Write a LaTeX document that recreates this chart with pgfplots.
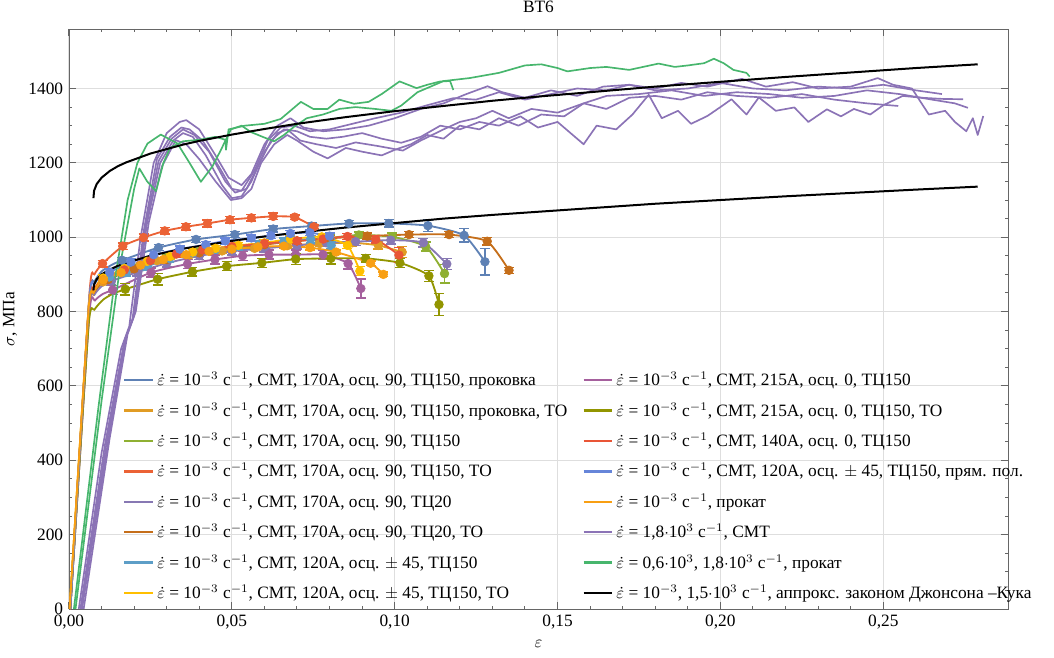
\documentclass[border=0pt]{standalone}
\usepackage{fontspec}
\setmainfont{Liberation Serif}
\usepackage{pgfplots}
\pgfplotsset{compat=1.18}
\definecolor{c1}{rgb}{0.368,0.507,0.710}
\definecolor{c2}{rgb}{0.881,0.611,0.142}
\definecolor{c3}{rgb}{0.560,0.692,0.195}
\definecolor{c4}{rgb}{0.923,0.386,0.209}
\definecolor{c5}{rgb}{0.528,0.471,0.701}
\definecolor{c6}{rgb}{0.772,0.432,0.102}
\definecolor{c7}{rgb}{0.364,0.619,0.782}
\definecolor{c8}{rgb}{1.000,0.750,0.000}
\definecolor{c9}{rgb}{0.648,0.378,0.614}
\definecolor{c10}{rgb}{0.572,0.586,0.000}
\definecolor{c11}{rgb}{0.915,0.333,0.213}
\definecolor{c12}{rgb}{0.401,0.522,0.850}
\definecolor{c13}{rgb}{0.973,0.622,0.073}
\definecolor{c14}{rgb}{0.545,0.450,0.715}
\definecolor{c15}{rgb}{0.280,0.715,0.429}
\newcommand{\fs}{\fontsize{10.4pt}{12.5pt}\selectfont}
\pgfplotsset{
  qline/.style={color=#1, line width=1.1pt, smooth, tension=0.35, mark=none},
  qmark/.style={color=#1, only marks, mark=*, mark size=2.6pt, mark options={solid, fill=#1, draw=#1}, forget plot,
     error bars/.cd, y dir=both, y explicit, error bar style={line width=0.9pt, color=#1},
     error mark options={rotate=90, mark size=3pt, line width=0.9pt, color=#1}},
  dline/.style={color=#1, line width=1.0pt, mark=none, line join=round},
}
\newcommand{\er}{$\dot{\varepsilon}$ = 10$^{-3}$ с$^{-1}$}
\begin{document}
\begin{tikzpicture}[font=\fs]
\begin{axis}[
  scale only axis, width=563.4pt, height=348pt,
  xmin=0, xmax=0.2883, ymin=0, ymax=1560,
  xtick={0,0.05,0.1,0.15,0.2,0.25},
  ytick={0,200,400,600,800,1000,1200,1400},
  minor x tick num=4, minor y tick num=3,
  grid=major, grid style={black!13, line width=0.6pt},
  axis line style={draw=black!60},
  tick style={black!60, line width=0.6pt},
  major tick length=4pt, minor tick length=2pt,
  /pgf/number format/assume math mode=true,
  tick label style={font=\fs},
  label style={font=\fs},
  title style={font=\fs},
  x tick label style={/pgf/number format/.cd, fixed, fixed zerofill, precision=2, use comma},
  y tick label style={/pgf/number format/.cd, fixed, precision=0, 1000 sep={}},
  title={ВТ6},
  xlabel={$\varepsilon$},
  ylabel={$\sigma$, МПа},
  legend style={draw=none, fill=none, at={(0.052,0.4205)}, anchor=north west, font=\fs,
    row sep=4.6pt, /tikz/every even column/.append style={column sep=7pt}},
  legend image post style={line width=1.4pt},
  legend cell align=left, legend columns=8, transpose legend,
]
% S1
\addplot[qline=c1] coordinates {(0.0004,0) (0.0062,830) (0.0078,880) (0.0100,908) (0.0130,925) (0.0163,938) (0.0275,972) (0.0390,994) (0.0509,1007) (0.0627,1022) (0.0745,1030) (0.0860,1037) (0.0982,1037) (0.1102,1031) (0.1213,1005) (0.1277,934)};
\addlegendentry{\er, СМТ, 170А, осц. 90, ТЦ150, проковка}
\addplot[qmark=c1] coordinates {(0.0163,938) +- (0,8) (0.0275,972) +- (0,8) (0.0390,994) +- (0,8) (0.0509,1007) +- (0,8) (0.0627,1022) +- (0,8) (0.0745,1030) +- (0,8) (0.0860,1037) +- (0,8) (0.0982,1037) +- (0,10) (0.1102,1031) +- (0,15) (0.1213,1005) +- (0,18) (0.1277,934) +- (0,35)};
% S2
\addplot[qline=c2] coordinates {(0.0002,0) (0.0060,800) (0.0075,845) (0.0090,868) (0.0105,880) (0.0180,912) (0.0270,937) (0.0370,952) (0.0470,963) (0.0570,970) (0.0670,977) (0.0770,983) (0.0870,985) (0.0950,978) (0.1023,960)};
\addlegendentry{\er, СМТ, 170А, осц. 90, ТЦ150, проковка, ТО}
\addplot[qmark=c2] coordinates {(0.0105,880) +- (0,6) (0.0180,912) +- (0,6) (0.0270,937) +- (0,6) (0.0370,952) +- (0,6) (0.0470,963) +- (0,6) (0.0570,970) +- (0,6) (0.0670,977) +- (0,6) (0.0770,983) +- (0,6) (0.0870,985) +- (0,8) (0.0950,978) +- (0,10) (0.1023,960) +- (0,15)};
% S3
\addplot[qline=c3] coordinates {(0.0003,0) (0.0061,800) (0.0076,850) (0.0095,875) (0.0120,890) (0.0200,918) (0.0300,945) (0.0400,962) (0.0500,973) (0.0600,983) (0.0700,990) (0.0800,998) (0.0890,1006) (0.0993,1001) (0.1095,975) (0.1153,902)};
\addlegendentry{\er, СМТ, 170А, осц. 90, ТЦ150}
\addplot[qmark=c3] coordinates {(0.0120,890) +- (0,8) (0.0200,918) +- (0,8) (0.0300,945) +- (0,8) (0.0400,962) +- (0,8) (0.0500,973) +- (0,8) (0.0600,983) +- (0,8) (0.0700,990) +- (0,8) (0.0800,998) +- (0,8) (0.0890,1006) +- (0,8) (0.0993,1001) +- (0,10) (0.1095,975) +- (0,12) (0.1153,902) +- (0,25)};
% S4
\addplot[qline=c4] coordinates {(0.0004,0) (0.0063,850) (0.0078,900) (0.0103,929) (0.0165,976) (0.0229,999) (0.0294,1017) (0.0359,1028) (0.0425,1037) (0.0494,1047) (0.0560,1052) (0.0627,1056) (0.0693,1054) (0.0752,1028)};
\addlegendentry{\er, СМТ, 170А, осц. 90, ТЦ150, ТО}
\addplot[qmark=c4] coordinates {(0.0103,929) +- (0,9) (0.0165,976) +- (0,9) (0.0229,999) +- (0,9) (0.0294,1017) +- (0,9) (0.0359,1028) +- (0,9) (0.0425,1037) +- (0,9) (0.0494,1047) +- (0,9) (0.0560,1052) +- (0,9) (0.0627,1056) +- (0,9) (0.0693,1054) +- (0,6) (0.0752,1028) +- (0,5)};
% S5
\addplot[qline=c5] coordinates {(0.0004,0) (0.0062,800) (0.0078,845) (0.0100,868) (0.0130,882) (0.0210,906) (0.0300,930) (0.0400,950) (0.0500,962) (0.0600,970) (0.0700,978) (0.0790,985) (0.0880,988) (0.0988,992) (0.1088,985) (0.1160,928)};
\addlegendentry{\er, СМТ, 170А, осц. 90, ТЦ20}
\addplot[qmark=c5] coordinates {(0.0130,882) +- (0,10) (0.0210,906) +- (0,10) (0.0300,930) +- (0,10) (0.0400,950) +- (0,10) (0.0500,962) +- (0,10) (0.0600,970) +- (0,10) (0.0700,978) +- (0,10) (0.0790,985) +- (0,10) (0.0880,988) +- (0,10) (0.0988,992) +- (0,10) (0.1088,985) +- (0,12) (0.1160,928) +- (0,15)};
% S6
\addplot[qline=c6] coordinates {(0.0003,0) (0.0061,805) (0.0076,850) (0.0095,872) (0.0120,886) (0.0200,915) (0.0300,940) (0.0400,958) (0.0500,970) (0.0600,980) (0.0700,990) (0.0800,997) (0.0916,1003) (0.1044,1007) (0.1167,1007) (0.1284,989) (0.1351,911)};
\addlegendentry{\er, СМТ, 170А, осц. 90, ТЦ20, ТО}
\addplot[qmark=c6] coordinates {(0.0120,886) +- (0,8) (0.0200,915) +- (0,8) (0.0300,940) +- (0,8) (0.0400,958) +- (0,8) (0.0500,970) +- (0,8) (0.0600,980) +- (0,8) (0.0700,990) +- (0,8) (0.0800,997) +- (0,8) (0.0916,1003) +- (0,8) (0.1044,1007) +- (0,8) (0.1167,1007) +- (0,8) (0.1284,989) +- (0,10) (0.1351,911) +- (0,8)};
% S7
\addplot[qline=c7] coordinates {(0.0003,0) (0.0061,810) (0.0077,855) (0.0095,878) (0.0124,893) (0.0175,905) (0.0241,922) (0.0308,943) (0.0380,958) (0.0450,968) (0.0520,976) (0.0583,981) (0.0660,988) (0.0742,995) (0.0805,978)};
\addlegendentry{\er, СМТ, 120А, осц. $\pm$ 45, ТЦ150}
\addplot[qmark=c7] coordinates {(0.0124,893) +- (0,10) (0.0175,905) +- (0,10) (0.0241,922) +- (0,10) (0.0308,943) +- (0,10) (0.0380,958) +- (0,10) (0.0450,968) +- (0,10) (0.0520,976) +- (0,10) (0.0583,981) +- (0,10) (0.0660,988) +- (0,10) (0.0742,995) +- (0,10) (0.0805,978) +- (0,10)};
% S8
\addplot[qline=c8] coordinates {(0.0002,0) (0.0060,810) (0.0075,855) (0.0090,878) (0.0105,890) (0.0170,916) (0.0240,935) (0.0310,948) (0.0380,960) (0.0450,970) (0.0520,978) (0.0600,985) (0.0680,995) (0.0776,1001) (0.0855,978) (0.0893,909)};
\addlegendentry{\er, СМТ, 120А, осц. $\pm$ 45, ТЦ150, ТО}
\addplot[qmark=c8] coordinates {(0.0105,890) +- (0,8) (0.0170,916) +- (0,8) (0.0240,935) +- (0,8) (0.0310,948) +- (0,8) (0.0380,960) +- (0,8) (0.0450,970) +- (0,8) (0.0520,978) +- (0,8) (0.0600,985) +- (0,8) (0.0680,995) +- (0,8) (0.0776,1001) +- (0,8) (0.0855,978) +- (0,8) (0.0893,909) +- (0,12)};
% S9
\addplot[qline=c9] coordinates {(0.0004,0) (0.0062,790) (0.0080,830) (0.0105,848) (0.0134,858) (0.0252,905) (0.0364,928) (0.0448,940) (0.0533,950) (0.0614,953) (0.0696,953) (0.0780,953) (0.0857,929) (0.0896,862)};
\addlegendentry{\er, СМТ, 215А, осц. 0, ТЦ150}
\addplot[qmark=c9] coordinates {(0.0134,858) +- (0,12) (0.0252,905) +- (0,12) (0.0364,928) +- (0,12) (0.0448,940) +- (0,12) (0.0533,950) +- (0,12) (0.0614,953) +- (0,12) (0.0696,953) +- (0,12) (0.0780,953) +- (0,12) (0.0857,929) +- (0,14) (0.0896,862) +- (0,25)};
% S10
\addplot[qline=c10] coordinates {(0.0004,0) (0.0060,760) (0.0078,805) (0.0105,832) (0.0135,848) (0.0173,860) (0.0272,887) (0.0379,907) (0.0484,922) (0.0592,931) (0.0696,941) (0.0804,943) (0.0911,943) (0.1016,931) (0.1105,896) (0.1136,819)};
\addlegendentry{\er, СМТ, 215А, осц. 0, ТЦ150, ТО}
\addplot[qmark=c10] coordinates {(0.0173,860) +- (0,15) (0.0272,887) +- (0,15) (0.0379,907) +- (0,12) (0.0484,922) +- (0,12) (0.0592,931) +- (0,12) (0.0696,941) +- (0,15) (0.0804,943) +- (0,15) (0.0911,943) +- (0,10) (0.1016,931) +- (0,12) (0.1105,896) +- (0,15) (0.1136,819) +- (0,30)};
% S11
\addplot[qline=c11] coordinates {(0.0003,0) (0.0061,815) (0.0076,858) (0.0090,875) (0.0105,885) (0.0170,912) (0.0250,937) (0.0330,955) (0.0410,966) (0.0500,975) (0.0600,983) (0.0700,990) (0.0780,995) (0.0855,1002) (0.0942,994) (0.1013,952)};
\addlegendentry{\er, СМТ, 140А, осц. 0, ТЦ150}
\addplot[qmark=c11] coordinates {(0.0105,885) +- (0,8) (0.0170,912) +- (0,8) (0.0250,937) +- (0,8) (0.0330,955) +- (0,8) (0.0410,966) +- (0,8) (0.0500,975) +- (0,8) (0.0600,983) +- (0,8) (0.0700,990) +- (0,8) (0.0780,995) +- (0,8) (0.0855,1002) +- (0,8) (0.0942,994) +- (0,10) (0.1013,952) +- (0,20)};
% S12
\addplot[qline=c12] coordinates {(0.0004,0) (0.0062,830) (0.0077,872) (0.0095,893) (0.0125,906) (0.0190,933) (0.0260,953) (0.0340,968) (0.0420,980) (0.0480,990) (0.0560,998) (0.0620,1004) (0.0680,1010) (0.0740,1012) (0.0800,1003)};
\addlegendentry{\er, СМТ, 120А, осц. $\pm$ 45, ТЦ150, прям. пол.}
\addplot[qmark=c12] coordinates {(0.0125,906) +- (0,8) (0.0190,933) +- (0,8) (0.0260,953) +- (0,8) (0.0340,968) +- (0,8) (0.0420,980) +- (0,8) (0.0480,990) +- (0,8) (0.0560,998) +- (0,8) (0.0620,1004) +- (0,8) (0.0680,1010) +- (0,8) (0.0740,1012) +- (0,8) (0.0800,1003) +- (0,8)};
% S13
\addplot[qline=c13] coordinates {(0.0002,0) (0.0060,805) (0.0075,850) (0.0090,873) (0.0105,885) (0.0160,905) (0.0220,925) (0.0290,940) (0.0360,953) (0.0430,962) (0.0500,968) (0.0580,974) (0.0660,976) (0.0740,972) (0.0820,960) (0.0926,930) (0.0965,900)};
\addlegendentry{$\dot{\varepsilon}$ = 10$^{-3}$ с$^{-1}$, прокат}
\addplot[qmark=c13] coordinates {(0.0105,885) +- (0,6) (0.0160,905) +- (0,6) (0.0220,925) +- (0,6) (0.0290,940) +- (0,6) (0.0360,953) +- (0,6) (0.0430,962) +- (0,6) (0.0500,968) +- (0,6) (0.0580,974) +- (0,6) (0.0660,976) +- (0,6) (0.0740,972) +- (0,6) (0.0820,960) +- (0,6) (0.0926,930) +- (0,6) (0.0965,900) +- (0,6)};
% Purple dynamic
\addplot[dline=c14] coordinates {(0.0030,0) (0.0100,420) (0.0160,700) (0.0185,760) (0.0220,1000) (0.0260,1200) (0.0300,1280) (0.0340,1310) (0.0360,1315) (0.0400,1290) (0.0450,1220) (0.0490,1160) (0.0530,1140) (0.0560,1170) (0.0600,1250) (0.0640,1300) (0.0680,1320) (0.0720,1295) (0.0780,1285) (0.0850,1290) (0.0920,1300) (0.1000,1320) (0.1080,1345) (0.1150,1360) (0.1220,1385) (0.1285,1406) (0.1330,1390) (0.1400,1375) (0.1480,1395) (0.1560,1380) (0.1640,1405) (0.1720,1410) (0.1800,1400) (0.1880,1415) (0.1960,1405) (0.2066,1426) (0.2140,1405) (0.2222,1417) (0.2300,1400) (0.2400,1405) (0.2483,1428) (0.2530,1410) (0.2588,1400) (0.2640,1330) (0.2690,1340) (0.2720,1310) (0.2755,1285) (0.2775,1320) (0.2790,1275) (0.2807,1326)};
\addlegendentry{$\dot{\varepsilon}$ = 1,8$\cdot$10$^3$ с$^{-1}$, СМТ}
\addplot[dline=c14, forget plot] coordinates {(0.0035,0) (0.0110,440) (0.0170,720) (0.0195,780) (0.0230,1020) (0.0270,1210) (0.0310,1270) (0.0345,1295) (0.0370,1290) (0.0410,1260) (0.0460,1190) (0.0500,1130) (0.0530,1125) (0.0570,1180) (0.0610,1260) (0.0650,1295) (0.0690,1300) (0.0740,1285) (0.0800,1290) (0.0870,1305) (0.0940,1320) (0.1020,1335) (0.1100,1355) (0.1180,1374) (0.1250,1370) (0.1320,1390) (0.1400,1370) (0.1480,1385) (0.1560,1400) (0.1650,1395) (0.1720,1410) (0.1800,1395) (0.1900,1400) (0.2000,1415) (0.2100,1400) (0.2200,1395) (0.2300,1405) (0.2400,1400) (0.2500,1410) (0.2600,1395) (0.2680,1385)};
\addplot[dline=c14, forget plot] coordinates {(0.0040,0) (0.0120,450) (0.0175,730) (0.0200,790) (0.0240,1040) (0.0280,1200) (0.0320,1260) (0.0350,1280) (0.0380,1270) (0.0420,1220) (0.0470,1140) (0.0500,1105) (0.0530,1110) (0.0560,1150) (0.0600,1230) (0.0640,1280) (0.0670,1290) (0.0710,1260) (0.0760,1250) (0.0820,1240) (0.0880,1255) (0.0950,1245) (0.1025,1233) (0.1080,1260) (0.1150,1290) (0.1200,1310) (0.1250,1320) (0.1300,1340) (0.1350,1320) (0.1420,1345) (0.1500,1335) (0.1580,1360) (0.1650,1380) (0.1750,1385) (0.1850,1395) (0.1950,1380) (0.2050,1390) (0.2150,1385) (0.2250,1375) (0.2350,1380) (0.2450,1395) (0.2550,1385) (0.2650,1370) (0.2720,1360) (0.2760,1348)};
\addplot[dline=c14, forget plot] coordinates {(0.0045,0) (0.0125,460) (0.0180,740) (0.0205,800) (0.0245,1040) (0.0285,1190) (0.0328,1261) (0.0360,1250) (0.0400,1210) (0.0450,1150) (0.0497,1100) (0.0530,1105) (0.0560,1130) (0.0590,1200) (0.0630,1250) (0.0670,1275) (0.0700,1260) (0.0750,1230) (0.0794,1212) (0.0850,1240) (0.0900,1230) (0.0960,1220) (0.1000,1235) (0.1050,1250) (0.1100,1275) (0.1150,1265) (0.1200,1300) (0.1260,1290) (0.1320,1320) (0.1380,1300) (0.1450,1330) (0.1520,1325) (0.1580,1360) (0.1650,1345) (0.1720,1375) (0.1800,1380) (0.1880,1370) (0.1960,1390) (0.2050,1380) (0.2150,1375) (0.2250,1385) (0.2350,1370) (0.2450,1360) (0.2546,1353)};
\addplot[dline=c14, forget plot] coordinates {(0.0038,0) (0.0115,445) (0.0172,725) (0.0198,785) (0.0235,1030) (0.0275,1205) (0.0315,1265) (0.0350,1290) (0.0385,1275) (0.0430,1230) (0.0480,1150) (0.0510,1120) (0.0545,1130) (0.0580,1190) (0.0620,1260) (0.0660,1290) (0.0700,1285) (0.0740,1270) (0.0790,1265) (0.0840,1270) (0.0900,1280) (0.0960,1265) (0.1020,1254) (0.1080,1270) (0.1140,1300) (0.1200,1290) (0.1260,1310) (0.1320,1300) (0.1386,1325) (0.1440,1295) (0.1500,1310) (0.1540,1280) (0.1580,1250) (0.1620,1300) (0.1680,1290) (0.1730,1330) (0.1780,1383) (0.1820,1320) (0.1870,1340) (0.1910,1305) (0.1960,1326) (0.2000,1350) (0.2034,1371) (0.2080,1330) (0.2118,1376) (0.2170,1340) (0.2227,1349) (0.2270,1310) (0.2327,1344) (0.2370,1325) (0.2410,1345) (0.2460,1330) (0.2500,1355) (0.2560,1380) (0.2620,1375) (0.2680,1372) (0.2745,1371)};
% Green dynamic
\addplot[dline=c15] coordinates {(0.0015,0) (0.0090,540) (0.0140,880) (0.0180,1100) (0.0210,1200) (0.0241,1252) (0.0282,1276) (0.0333,1252) (0.0370,1200) (0.0405,1149) (0.0440,1190) (0.0466,1234) (0.0497,1290) (0.0530,1300) (0.0558,1283) (0.0600,1268) (0.0630,1258) (0.0660,1275) (0.0691,1297) (0.0730,1320) (0.0780,1330) (0.0830,1345) (0.0880,1350) (0.0940,1345) (0.0990,1340) (0.1020,1354) (0.1070,1390) (0.1150,1420) (0.1230,1428) (0.1320,1442) (0.1400,1462) (0.1450,1465) (0.1500,1455) (0.1530,1446) (0.1600,1455) (0.1650,1458) (0.1720,1450) (0.1810,1467) (0.1860,1458) (0.1900,1462) (0.1950,1468) (0.1980,1480) (0.2010,1468) (0.2040,1450) (0.2080,1442) (0.2090,1432)};
\addlegendentry{$\dot{\varepsilon}$ = 0,6$\cdot$10$^3$, 1,8$\cdot$10$^3$ с$^{-1}$, прокат}
\addplot[dline=c15, forget plot] coordinates {(0.0020,0) (0.0100,560) (0.0160,940) (0.0200,1130) (0.0216,1185) (0.0240,1150) (0.0267,1124) (0.0290,1200) (0.0310,1240) (0.0350,1258) (0.0400,1262) (0.0450,1270) (0.0480,1262) (0.0482,1235) (0.0490,1290) (0.0540,1300) (0.0600,1305) (0.0650,1318) (0.0712,1364) (0.0750,1345) (0.0794,1345) (0.0830,1370) (0.0875,1359) (0.0920,1364) (0.0960,1385) (0.1015,1419) (0.1067,1401) (0.1100,1410) (0.1140,1419) (0.1170,1420) (0.1180,1396)};
% Johnson-Cook
\addplot[color=black, line width=1.2pt, mark=none] coordinates {(0.0075,857) (0.0077,873) (0.0085,887) (0.0100,900) (0.0125,913) (0.0150,923) (0.0175,931) (0.0250,950) (0.0350,969) (0.0400,976) (0.0500,990) (0.0600,1002) (0.0700,1012) (0.0850,1026) (0.1000,1038) (0.1150,1050) (0.1300,1060) (0.1450,1069) (0.1600,1078) (0.1800,1090) (0.2000,1100) (0.2200,1110) (0.2400,1119) (0.2600,1128) (0.2790,1136)};
\addlegendentry{$\dot{\varepsilon}$ = 10$^{-3}$, 1,5$\cdot$10$^3$ с$^{-1}$, аппрокс. законом Джонсона –Кука}
\addplot[color=black, line width=1.2pt, mark=none, forget plot] coordinates {(0.0075,1105) (0.0077,1125) (0.0085,1143) (0.0100,1160) (0.0125,1178) (0.0150,1191) (0.0175,1201) (0.0250,1225) (0.0350,1249) (0.0400,1259) (0.0500,1276) (0.0600,1291) (0.0700,1305) (0.0850,1323) (0.1000,1339) (0.1150,1353) (0.1300,1367) (0.1450,1379) (0.1600,1390) (0.1800,1405) (0.2000,1418) (0.2200,1431) (0.2400,1443) (0.2600,1455) (0.2790,1465)};
\end{axis}
\pgfresetboundingbox
\path[use as bounding box] (-41.4pt,-28.8pt) rectangle (591pt,365.4pt);
\end{tikzpicture}
\end{document}
